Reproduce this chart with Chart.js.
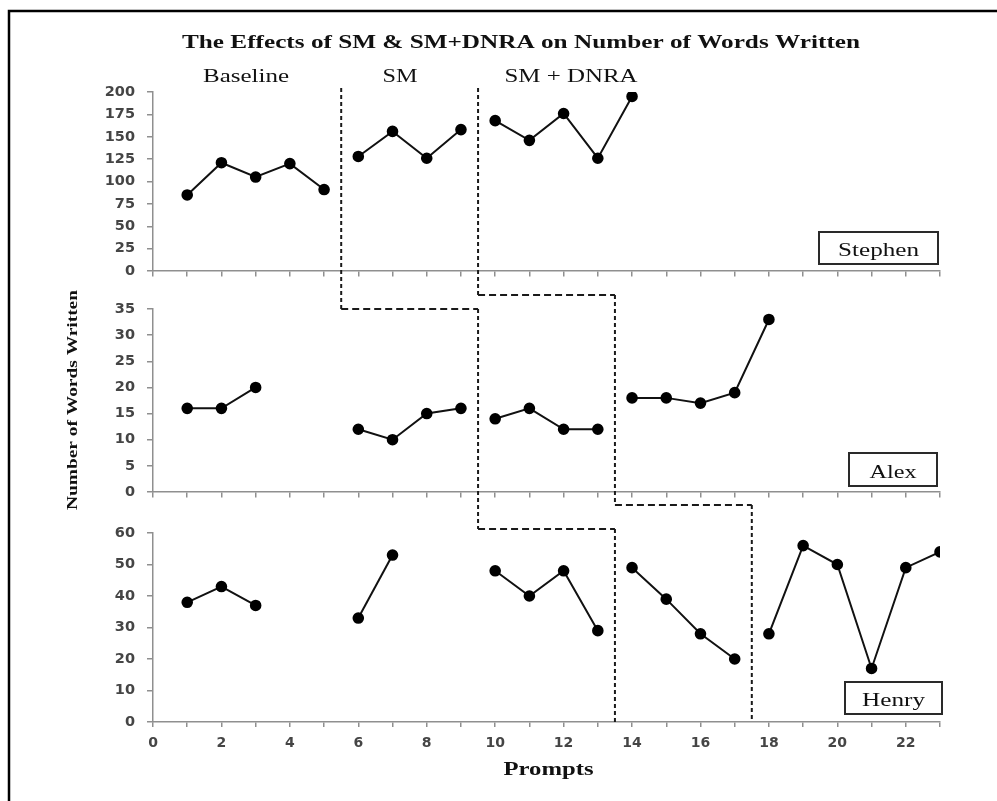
<!DOCTYPE html>
<html lang="en">
<head>
  <meta charset="UTF-8" />
  <title>The Effects of SM &amp; SM+DNRA on Number of Words Written</title>
  <script src="https://cdn.jsdelivr.net/npm/chart.js"></script>
  <style>
    html, body { margin: 0; background: #fff; }
    canvas { display: block; }
  </style>
</head>
<body>
  <canvas id="wordsChart" width="997" height="801"></canvas>

  <script>
    // prompts 1..23, null = no session for that student
    const prompts = [1, 2, 3, 4, 5, 6, 7, 8, 9, 10, 11, 12, 13, 14, 15, 16, 17, 18, 19, 20, 21, 22, 23];
    const stephen = [85, 121, 105, 120, 91, 128, 156, 126, 158, 168, 146, 176, 126, 195];
    const alex = [16, 16, 20, null, null, 12, 10, 15, 16, 14, 16, 12, 12, 18, 18, 17, 19, 33];
    const henry = [38, 43, 37, null, null, 33, 53, null, null, 48, 40, 48, 29, 49, 39, 28, 20, 28, 56, 50, 17, 49, 54];

    // phase changes (between prompts) for each student
    const stephenBreaks = [5.5, 9.5];
    const alexBreaks = [9.5, 13.5];
    const henryBreaks = [13.5, 17.5];

    const phaseNames = ['Baseline', 'SM', 'SM + DNRA'];
    const studentNames = ['Stephen', 'Alex', 'Henry'];

    const yTopTicks = { max: 200, step: 25 };
    const yMidTicks = { max: 35, step: 5 };
    const yBotTicks = { max: 60, step: 10 };

    const AXIS_GRAY = '#8f8f8f';
    const TICK_FONT = { family: 'DejaVu Sans', size: 14, weight: 'bold' };
    const SERIF = '"Liberation Serif", "Times New Roman", serif';

    function series(values, breaks, yAxisID) {
      return {
        data: values.map((v, i) => ({ x: prompts[i], y: v })),
        yAxisID,
        xAxisID: 'x',
        borderColor: '#111',
        borderWidth: 2,
        pointRadius: 4.8,
        pointBackgroundColor: '#000',
        pointBorderColor: '#000',
        spanGaps: false,
        segment: {
          borderColor: ctx => breaks.some(b => ctx.p0.parsed.x < b && ctx.p1.parsed.x > b) ? 'rgba(0,0,0,0)' : '#111'
        }
      };
    }

    function yScale(t, weight, stackWeight) {
      return {
        type: 'linear',
        axis: 'y',
        position: 'left',
        stack: 'panels',
        stackWeight,
        weight,
        min: 0,
        max: t.max,
        afterFit: s => { s.width = 60; },
        ticks: { stepSize: t.step, autoSkip: false, padding: 12, color: '#454545', font: { ...TICK_FONT, size: 14.5 } },
        grid: { drawOnChartArea: false, drawTicks: true, tickLength: 6, color: AXIS_GRAY, lineWidth: 1.5 },
        border: { color: AXIS_GRAY, width: 1.5 }
      };
    }

    function spacer(weight, stackWeight) {
      return { type: 'linear', axis: 'y', position: 'left', stack: 'panels', stackWeight, weight, display: false };
    }

    function panelXAxis(yId) {
      return {
        type: 'linear',
        axis: 'x',
        position: { [yId]: 0 },
        min: 0,
        max: 23,
        ticks: { display: false, stepSize: 1, autoSkip: false },
        grid: { drawOnChartArea: false, drawTicks: true, tickLength: 5, color: AXIS_GRAY, lineWidth: 1.5 },
        border: { color: AXIS_GRAY, width: 1.5 }
      };
    }

    // draws text squeezed/stretched to the width seen in the figure
    function fitText(ctx, text, x, y, font, width, rotate) {
      ctx.save();
      ctx.font = font;
      ctx.textAlign = 'center';
      ctx.textBaseline = 'alphabetic';
      const w = ctx.measureText(text).width;
      ctx.translate(x, y);
      if (rotate) ctx.rotate(-Math.PI / 2);
      ctx.scale(width / w, 1);
      ctx.fillText(text, 0, 0);
      ctx.restore();
    }

    const decor = {
      id: 'decor',
      afterDraw(chart) {
        const ctx = chart.ctx;
        const s = chart.scales;
        const px = v => s.x.getPixelForValue(v);
        ctx.save();
        ctx.fillStyle = '#111';

        // frame edge
        ctx.strokeStyle = '#000';
        ctx.lineWidth = 2.5;
        ctx.beginPath();
        ctx.moveTo(9, 801);
        ctx.lineTo(9, 11);
        ctx.lineTo(997, 11);
        ctx.stroke();

        fitText(ctx, 'The Effects of SM & SM+DNRA on Number of Words Written', 521, 48, 'bold 19px ' + SERIF, 678);
        fitText(ctx, phaseNames[0], 246, 82, '18px ' + SERIF, 86);
        fitText(ctx, phaseNames[1], 400, 82, '18px ' + SERIF, 35);
        fitText(ctx, phaseNames[2], 571, 82, '18px ' + SERIF, 133);
        fitText(ctx, 'Number of Words Written', 77, 400, 'bold 14px ' + SERIF, 220, true);
        fitText(ctx, 'Prompts', (chart.chartArea.left + chart.chartArea.right) / 2 + 2, 775, 'bold 19px ' + SERIF, 90);

        // name boxes, bottom right of each panel
        const boxes = [
          { name: studentNames[0], panel: s.yTop, right: -2, w: 119, h: 32, up: 7, tw: 81 },
          { name: studentNames[1], panel: s.yMid, right: -3, w: 88, h: 33, up: 6, tw: 47 },
          { name: studentNames[2], panel: s.yBot, right: 2, w: 97, h: 32, up: 8, tw: 63 }
        ];
        boxes.forEach(b => {
          const r = chart.chartArea.right + b.right;
          const bottom = b.panel.bottom - b.up;
          ctx.strokeStyle = '#2a2a2a';
          ctx.lineWidth = 2;
          ctx.strokeRect(r - b.w, bottom - b.h, b.w, b.h);
          fitText(ctx, b.name, r - b.w / 2, bottom - 8, '19px ' + SERIF, b.tw);
        });

        // phase change lines stepping down through the panels
        const lines = [
          { xs: [stephenBreaks[0], alexBreaks[0], henryBreaks[0]], jogs: [s.yMid.top, s.yBot.top - 4] },
          { xs: [stephenBreaks[1], alexBreaks[1], henryBreaks[1]], jogs: [s.yMid.top - 14, s.yBot.top - 28] }
        ];
        ctx.strokeStyle = '#1a1a1a';
        ctx.lineWidth = 2;
        lines.forEach(l => {
          const pts = [
            [px(l.xs[0]), s.yTop.top - 4],
            [px(l.xs[0]), l.jogs[0]],
            [px(l.xs[1]), l.jogs[0]],
            [px(l.xs[1]), l.jogs[1]],
            [px(l.xs[2]), l.jogs[1]],
            [px(l.xs[2]), s.yBot.bottom]
          ];
          for (let i = 0; i < pts.length - 1; i++) {
            const vertical = pts[i][0] === pts[i + 1][0];
            ctx.setLineDash(vertical ? [4, 3] : [7, 4]);
            ctx.beginPath();
            ctx.moveTo(pts[i][0], pts[i][1]);
            ctx.lineTo(pts[i + 1][0], pts[i + 1][1]);
            ctx.stroke();
          }
        });
        ctx.restore();
      }
    };

    new Chart(document.getElementById('wordsChart'), {
      type: 'line',
      data: {
        datasets: [
          series(stephen, stephenBreaks, 'yTop'),
          series(alex, alexBreaks, 'yMid'),
          series(henry, henryBreaks, 'yBot')
        ]
      },
      options: {
        responsive: false,
        animation: false,
        layout: { padding: { left: 93, right: 57, top: 92, bottom: 34 } },
        plugins: { legend: { display: false }, tooltip: { enabled: false } },
        scales: {
          x: {
            type: 'linear',
            position: 'bottom',
            min: 0,
            max: 23,
            afterFit: sc => { sc.height = 45; },
            ticks: {
              stepSize: 1,
              autoSkip: false,
              maxRotation: 0,
              padding: 8,
              color: '#454545',
              font: TICK_FONT,
              callback: v => (v % 2 === 0 ? v : '')
            },
            grid: { drawOnChartArea: false, drawTicks: true, tickLength: 5, color: AXIS_GRAY, lineWidth: 1.5 },
            border: { color: AXIS_GRAY, width: 1.5 }
          },
          xTop: panelXAxis('yTop'),
          xMid: panelXAxis('yMid'),
          yTop: yScale(yTopTicks, 5, 179),
          gap1: spacer(4, 38),
          yMid: yScale(yMidTicks, 3, 183),
          gap2: spacer(2, 41),
          yBot: yScale(yBotTicks, 1, 189)
        }
      },
      plugins: [decor]
    });
  </script>
</body>
</html>
